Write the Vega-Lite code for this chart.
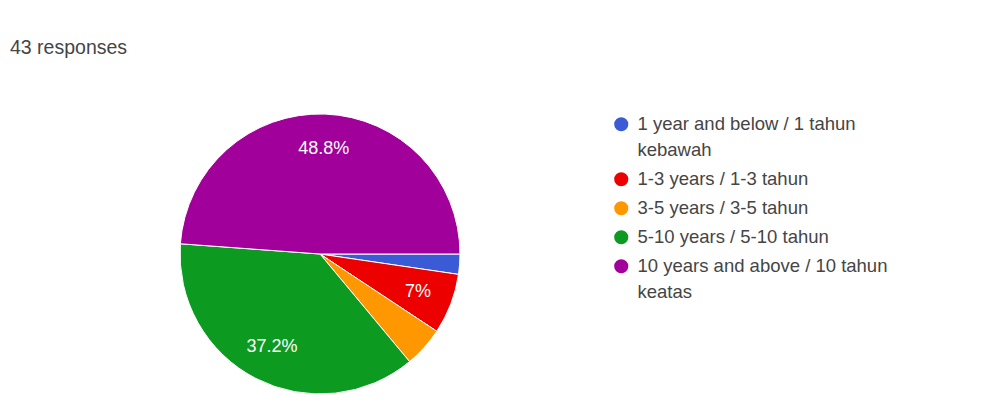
{
  "$schema": "https://vega.github.io/schema/vega-lite/v6.json",
  "width": 280,
  "height": 280,
  "autosize": "none",
  "padding": {"top": 114, "left": 180, "right": 532, "bottom": 17},
  "background": "white",
  "title": {
    "text": "43 responses",
    "anchor": "start",
    "frame": "group",
    "orient": "top",
    "offset": 54,
    "dx": -170,
    "font": "Liberation Sans",
    "fontSize": 19.5,
    "fontWeight": "normal",
    "color": "#454545"
  },
  "data": {
    "values": [
      {"category": "1 year and below / 1 tahun kebawah", "count": 1, "order": 1, "pct": ""},
      {"category": "1-3 years / 1-3 tahun", "count": 3, "order": 2, "pct": "7%"},
      {"category": "3-5 years / 3-5 tahun", "count": 2, "order": 3, "pct": ""},
      {"category": "5-10 years / 5-10 tahun", "count": 16, "order": 4, "pct": "37.2%"},
      {"category": "10 years and above / 10 tahun keatas", "count": 21, "order": 5, "pct": "48.8%"}
    ]
  },
  "encoding": {
    "theta": {"field": "count", "type": "quantitative", "stack": true, "scale": {"range": [1.5707963, 7.8539816]}},
    "order": {"field": "order", "type": "quantitative"}
  },
  "layer": [
    {
      "mark": {"type": "arc", "stroke": "white", "strokeWidth": 1},
      "encoding": {
        "color": {
          "field": "category",
          "type": "nominal",
          "sort": ["1 year and below / 1 tahun kebawah", "1-3 years / 1-3 tahun", "3-5 years / 3-5 tahun", "5-10 years / 5-10 tahun", "10 years and above / 10 tahun keatas"],
          "scale": {
            "domain": ["1 year and below / 1 tahun kebawah", "1-3 years / 1-3 tahun", "3-5 years / 3-5 tahun", "5-10 years / 5-10 tahun", "10 years and above / 10 tahun keatas"],
            "range": ["#3b5bd6", "#ec0000", "#ff9800", "#0c9a21", "#a2009b"]
          },
          "legend": {
            "title": null,
            "orient": "right",
            "offset": 151,
            "padding": 1,
            "symbolType": "circle",
            "symbolSize": 200,
            "symbolStrokeWidth": 0,
            "labelOffset": 7,
            "labelFont": "Liberation Sans",
            "labelFontSize": 18.5,
            "labelColor": "#454545",
            "labelLimit": 400,
            "labelBaseline": "top",
            "rowPadding": 9,
            "labelExpr": "datum.label === '1 year and below / 1 tahun kebawah' ? ['1 year and below / 1 tahun', 'kebawah'] : datum.label === '10 years and above / 10 tahun keatas' ? ['10 years and above / 10 tahun', 'keatas'] : datum.label",
            "encoding": {
              "labels": {"dy": {"value": -9.5}, "lineHeight": {"value": 26}}
            }
          }
        }
      }
    },
    {
      "mark": {"type": "text", "radius": 105, "font": "Liberation Sans", "fontSize": 18, "color": "white"},
      "encoding": {
        "text": {"field": "pct", "type": "nominal"}
      }
    }
  ]
}
